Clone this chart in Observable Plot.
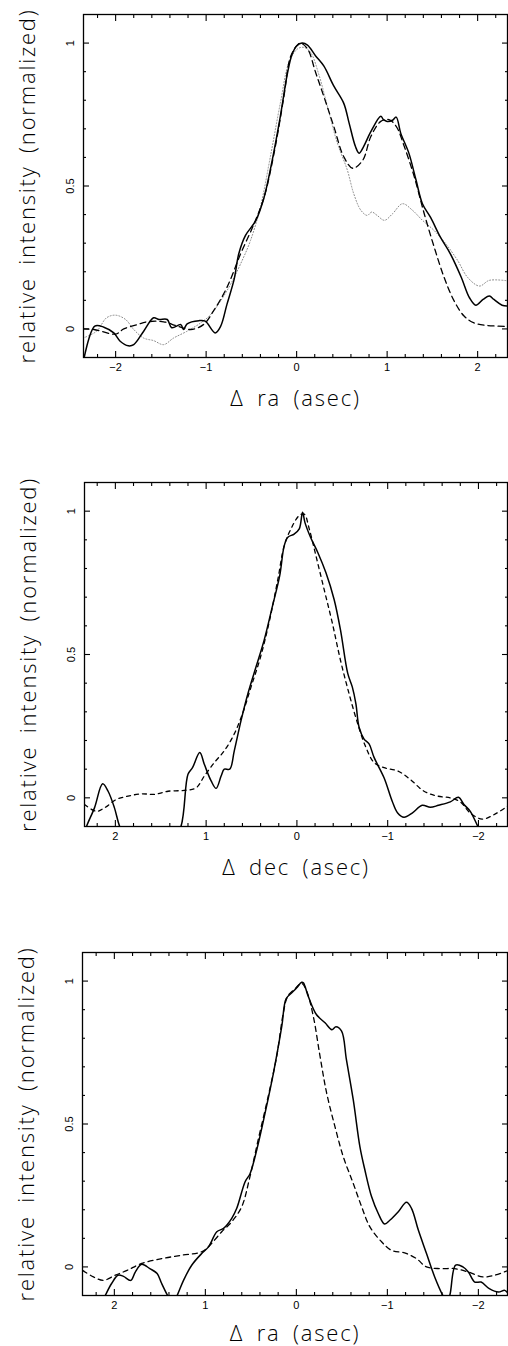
<!DOCTYPE html>
<html>
<head>
<meta charset="utf-8">
<script src="https://cdn.jsdelivr.net/npm/d3@7"></script>
<script src="https://cdn.jsdelivr.net/npm/@observablehq/plot@0.6"></script>
<style>
  html, body { margin: 0; padding: 0; background: #fff; }
  #chart { width: 508px; }
  #chart svg { display: block; }
</style>
</head>
<body>
<div id="chart"></div>
<script>
// ---------- Data ----------
const yTitle = "relative intensity (normalized)";
const xTitles = ["\u0394 ra (asec)", "\u0394 dec (asec)", "\u0394 ra (asec)"];

const xMajorTicks = [-2, -1, 0, 1, 2];
const xMinorTicks = [-2.2, -1.8, -1.6, -1.4, -1.2, -0.8, -0.6, -0.4, -0.2, 0.2, 0.4, 0.6, 0.8, 1.2, 1.4, 1.6, 1.8, 2.2];
const yMajorTicks = [0, 0.5, 1];
const yMinorTicks = [0.1, 0.2, 0.3, 0.4, 0.6, 0.7, 0.8, 0.9];

// Panel 1 (Δ ra, increasing to the right)
const p1Solid = [[-2.36,-0.12],[-2.23,0.01],[-2.13,0.006],[-2.02,-0.014],[-1.95,-0.043],[-1.86,-0.059],[-1.8,-0.055],[-1.69,-0.008],[-1.58,0.039],[-1.52,0.033],[-1.43,0.033],[-1.38,0.004],[-1.28,0.015],[-1.25,-0.002],[-1.21,0.018],[-1.08,0.029],[-1.01,0.027],[-0.9,-0.014],[-0.84,0.009],[-0.77,0.086],[-0.69,0.174],[-0.64,0.262],[-0.565,0.327],[-0.45,0.38],[-0.36,0.46],[-0.27,0.59],[-0.18,0.744],[-0.1,0.897],[-0.05,0.961],[0,0.99],[0.06,1.0],[0.12,0.993],[0.21,0.955],[0.3,0.92],[0.41,0.85],[0.52,0.79],[0.58,0.72],[0.65,0.638],[0.69,0.615],[0.74,0.638],[0.82,0.69],[0.93,0.744],[0.96,0.732],[1.0,0.726],[1.06,0.73],[1.1,0.741],[1.15,0.685],[1.24,0.615],[1.32,0.52],[1.39,0.438],[1.48,0.39],[1.59,0.32],[1.7,0.262],[1.82,0.18],[1.91,0.109],[1.98,0.083],[2.06,0.103],[2.13,0.115],[2.18,0.103],[2.27,0.083],[2.34,0.08]];
const p1Dashed = [[-2.36,0.0],[-2.24,-0.002],[-2.0,-0.018],[-1.91,0.0],[-1.76,0.015],[-1.65,0.025],[-1.47,0.025],[-1.32,0.01],[-1.17,-0.002],[-1.03,0.015],[-0.92,0.062],[-0.77,0.145],[-0.62,0.262],[-0.47,0.368],[-0.36,0.46],[-0.25,0.614],[-0.14,0.814],[-0.07,0.95],[0,0.99],[0.04,1.0],[0.12,0.98],[0.21,0.897],[0.3,0.814],[0.41,0.709],[0.52,0.603],[0.62,0.562],[0.73,0.59],[0.82,0.673],[0.93,0.726],[1.02,0.732],[1.1,0.709],[1.19,0.638],[1.3,0.532],[1.41,0.403],[1.52,0.286],[1.63,0.18],[1.74,0.098],[1.85,0.045],[1.96,0.021],[2.11,0.012],[2.34,0.009]];
const p1Dotted = [[-2.36,-0.032],[-2.21,-0.008],[-2.1,0.039],[-2.0,0.048],[-1.89,0.033],[-1.8,-0.002],[-1.69,-0.032],[-1.58,-0.041],[-1.47,-0.055],[-1.36,-0.032],[-1.21,-0.008],[-1.06,0.021],[-0.95,0.05],[-0.84,0.098],[-0.73,0.156],[-0.62,0.227],[-0.51,0.309],[-0.4,0.427],[-0.29,0.603],[-0.18,0.79],[-0.085,0.932],[0.007,0.979],[0.08,0.985],[0.155,0.967],[0.25,0.885],[0.34,0.779],[0.45,0.65],[0.56,0.556],[0.63,0.474],[0.71,0.415],[0.78,0.397],[0.83,0.409],[0.89,0.397],[0.97,0.38],[1.06,0.403],[1.17,0.438],[1.28,0.415],[1.39,0.38],[1.52,0.344],[1.65,0.297],[1.78,0.239],[1.89,0.18],[2.02,0.15],[2.13,0.17],[2.34,0.168]];

// Panel 2 (Δ dec, decreasing to the right)
const p2Solid = [[2.34,-0.13],[2.32,-0.102],[2.23,-0.035],[2.14,0.049],[2.08,0.023],[2.01,-0.035],[1.95,-0.102],[1.85,-0.16],[1.6,-0.2],[1.4,-0.16],[1.28,-0.102],[1.2,0.082],[1.15,0.105],[1.07,0.158],[1.02,0.117],[0.945,0.059],[0.89,0.033],[0.835,0.076],[0.8,0.1],[0.74,0.1],[0.69,0.164],[0.615,0.27],[0.54,0.363],[0.45,0.457],[0.36,0.551],[0.27,0.668],[0.19,0.774],[0.14,0.879],[0.1,0.909],[0.03,0.92],[-0.026,0.938],[-0.062,0.996],[-0.088,0.961],[-0.15,0.909],[-0.23,0.856],[-0.32,0.785],[-0.41,0.692],[-0.48,0.586],[-0.56,0.434],[-0.61,0.387],[-0.65,0.328],[-0.685,0.246],[-0.74,0.205],[-0.795,0.188],[-0.85,0.141],[-0.96,0.07],[-1.05,-0.012],[-1.11,-0.053],[-1.18,-0.068],[-1.27,-0.053],[-1.38,-0.026],[-1.47,-0.033],[-1.56,-0.026],[-1.69,-0.014],[-1.78,0.002],[-1.84,-0.023],[-1.91,-0.047],[-1.985,-0.094],[-2.0,-0.102],[-2.1,-0.15],[-2.34,-0.2]];
const p2Dashed = [[2.34,-0.023],[2.21,-0.047],[2.12,-0.035],[1.99,-0.006],[1.86,0.006],[1.71,0.014],[1.57,0.012],[1.42,0.023],[1.24,0.026],[1.11,0.035],[1.02,0.076],[0.91,0.123],[0.8,0.164],[0.69,0.223],[0.6,0.293],[0.505,0.387],[0.4,0.492],[0.3,0.621],[0.21,0.762],[0.14,0.879],[0.066,0.938],[-0.026,0.985],[-0.08,0.99],[-0.136,0.938],[-0.21,0.844],[-0.3,0.727],[-0.39,0.61],[-0.48,0.48],[-0.575,0.363],[-0.67,0.258],[-0.76,0.176],[-0.85,0.123],[-0.96,0.105],[-1.11,0.094],[-1.25,0.064],[-1.4,0.023],[-1.55,0.006],[-1.69,0.0],[-1.8,-0.014],[-1.91,-0.053],[-2.04,-0.074],[-2.17,-0.059],[-2.32,-0.029]];

// Panel 3 (Δ ra, decreasing to the right)
const p3Solid = [[2.35,-0.25],[2.2,-0.17],[2.1,-0.1],[2.03,-0.058],[1.96,-0.029],[1.9,-0.033],[1.82,-0.047],[1.77,-0.018],[1.7,0.009],[1.61,-0.006],[1.53,-0.023],[1.48,-0.058],[1.415,-0.1],[1.36,-0.13],[1.31,-0.1],[1.24,-0.047],[1.15,0.006],[1.04,0.047],[0.965,0.07],[0.874,0.123],[0.8,0.135],[0.71,0.17],[0.655,0.205],[0.563,0.298],[0.508,0.327],[0.435,0.41],[0.344,0.538],[0.252,0.678],[0.16,0.842],[0.113,0.938],[0.05,0.959],[-0.004,0.977],[-0.058,0.996],[-0.077,0.994],[-0.13,0.947],[-0.22,0.883],[-0.315,0.854],[-0.39,0.83],[-0.435,0.84],[-0.497,0.825],[-0.55,0.725],[-0.625,0.585],[-0.698,0.421],[-0.753,0.339],[-0.826,0.246],[-0.9,0.187],[-0.97,0.15],[-1.03,0.164],[-1.12,0.193],[-1.21,0.226],[-1.265,0.205],[-1.34,0.129],[-1.43,0.047],[-1.52,-0.035],[-1.61,-0.1],[-1.65,-0.12],[-1.685,-0.1],[-1.75,0.006],[-1.83,0.0],[-1.89,-0.018],[-1.96,-0.053],[-2.03,-0.053],[-2.12,-0.076],[-2.22,-0.088],[-2.29,-0.082],[-2.33,-0.094]];
const p3Dashed = [[2.35,-0.012],[2.23,-0.035],[2.12,-0.047],[1.99,-0.029],[1.86,-0.012],[1.7,0.012],[1.48,0.029],[1.26,0.041],[1.04,0.053],[0.95,0.076],[0.82,0.123],[0.71,0.158],[0.6,0.211],[0.51,0.316],[0.42,0.444],[0.31,0.596],[0.216,0.737],[0.143,0.889],[0.095,0.947],[0.015,0.973],[-0.058,0.992],[-0.113,0.965],[-0.186,0.877],[-0.26,0.737],[-0.333,0.608],[-0.424,0.491],[-0.515,0.386],[-0.625,0.292],[-0.717,0.211],[-0.808,0.14],[-0.936,0.088],[-1.046,0.058],[-1.19,0.049],[-1.32,0.029],[-1.43,0.0],[-1.59,-0.006],[-1.74,-0.006],[-1.89,-0.018],[-2.05,-0.035],[-2.18,-0.029],[-2.33,-0.012]];

// ---------- Drawing ----------
const titleFont = "'Open Sans', 'DejaVu Sans', sans-serif";
const tickFont = "'Liberation Sans', Arial, sans-serif";
const fmtTick = d => (d < 0 ? "\u2212" : "") + Math.abs(d);

function panel({height, marginTop, marginBottom, marginLeft, xDomain, xTitle, xTitleDy, lines}) {
  const lineMarks = lines.map(({data, dash, stroke, width}) =>
    Plot.line(data, {x: d => d[0], y: d => d[1], stroke, strokeWidth: width,
      strokeDasharray: dash, curve: "catmull-rom", clip: true}));
  const tickStyle = {stroke: "black", strokeWidth: 1.1};
  const titleStyle = {fontSize: 22, fontFamily: titleFont, fontWeight: 300, fill: "black",
    textAnchor: "middle", lineAnchor: "middle"};
  const svg = Plot.plot({
    width: 508,
    height,
    marginTop, marginBottom, marginLeft, marginRight: 1,
    style: {fontFamily: tickFont, background: "white", overflow: "visible"},
    x: {domain: xDomain},
    y: {domain: [-0.1, 1.1]},
    marks: [
      ...lineMarks,
      Plot.frame({stroke: "black", strokeWidth: 1.3}),
      // inward ticks, bottom & top
      Plot.axisX({anchor: "bottom", ticks: xMajorTicks, tickSize: -6, tickFormat: () => "", label: null, ...tickStyle}),
      Plot.axisX({anchor: "bottom", ticks: xMinorTicks, tickSize: -3, tickFormat: () => "", label: null, ...tickStyle}),
      Plot.axisX({anchor: "top", ticks: xMajorTicks, tickSize: -6, tickFormat: () => "", label: null, ...tickStyle}),
      Plot.axisX({anchor: "top", ticks: xMinorTicks, tickSize: -3, tickFormat: () => "", label: null, ...tickStyle}),
      // inward ticks, left & right
      Plot.axisY({anchor: "left", ticks: yMajorTicks, tickSize: -6, tickFormat: () => "", label: null, ...tickStyle}),
      Plot.axisY({anchor: "left", ticks: yMinorTicks, tickSize: -3, tickFormat: () => "", label: null, ...tickStyle}),
      Plot.axisY({anchor: "right", ticks: yMajorTicks, tickSize: -6, tickFormat: () => "", label: null, ...tickStyle}),
      Plot.axisY({anchor: "right", ticks: yMinorTicks, tickSize: -3, tickFormat: () => "", label: null, ...tickStyle}),
      // tick labels
      Plot.axisX({anchor: "bottom", ticks: xMajorTicks, tickSize: 0, tickPadding: 6, tickFormat: fmtTick, label: null, fontSize: 11}),
      Plot.text(yMajorTicks, {y: d => d, frameAnchor: "left", dx: -13, rotate: -90, text: d => String(d),
        fontSize: 11, fill: "black", textAnchor: "middle", lineAnchor: "middle"}),
      // axis titles
      Plot.text([xTitle], {frameAnchor: "bottom", dy: xTitleDy, text: d => d, ...titleStyle}),
      Plot.text([yTitle], {frameAnchor: "left", dx: -56, rotate: -90, text: d => d, ...titleStyle})
    ]
  });
  d3.select(svg).selectAll("text")
    .filter(function() { return this.textContent === yTitle || this.textContent === xTitle; })
    .style("letter-spacing", "1.8px").style("word-spacing", "5px");
  return svg;
}

const solid = (data) => ({data, stroke: "black", width: 1.5, dash: null});
const dashed = (data, dash) => ({data, stroke: "black", width: 1.3, dash});
const dotted = (data) => ({data, stroke: "#888", width: 1, dash: "1,2"});

const chart = document.getElementById("chart");
chart.append(panel({height: 470, marginTop: 14, marginBottom: 113, marginLeft: 83,
  xDomain: [-2.355, 2.33], xTitle: xTitles[0], xTitleDy: 41,
  lines: [dotted(p1Dotted), dashed(p1Dashed, "6,4"), solid(p1Solid)]}));
chart.append(panel({height: 470, marginTop: 12, marginBottom: 114, marginLeft: 84,
  xDomain: [2.34, -2.32], xTitle: xTitles[1], xTitleDy: 41,
  lines: [dashed(p2Dashed, "4,4"), solid(p2Solid)]}));
chart.append(panel({height: 406, marginTop: 12, marginBottom: 51, marginLeft: 82,
  xDomain: [2.35, -2.32], xTitle: xTitles[2], xTitleDy: 38,
  lines: [dashed(p3Dashed, "5,4"), solid(p3Solid)]}));
</script>
</body>
</html>
